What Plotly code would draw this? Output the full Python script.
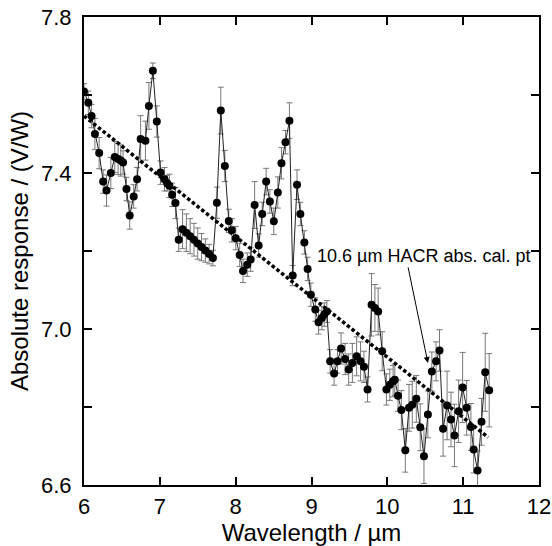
import plotly.graph_objects as go

# Measured data (wavelength in um, absolute response in V/W, error bar)
wavelength = [6.00, 6.057, 6.10, 6.144, 6.20, 6.253, 6.297, 6.354, 6.406, 6.45, 6.485, 6.515,
              6.56, 6.603, 6.655, 6.70, 6.747, 6.81, 6.856, 6.908, 6.96, 7.009, 7.062, 7.097,
              7.127, 7.162, 7.206, 7.249,
              7.30, 7.35, 7.40, 7.45, 7.50, 7.55, 7.60, 7.65, 7.70,
              7.752, 7.804, 7.857, 7.909, 7.949, 8.001, 8.053, 8.097, 8.153, 8.198, 8.25,
              8.303, 8.35, 8.402, 8.451, 8.503, 8.556, 8.604, 8.657, 8.709, 8.752, 8.809,
              8.853, 8.906, 8.949, 8.992, 9.050, 9.093, 9.137, 9.168, 9.202, 9.246, 9.298,
              9.342, 9.39, 9.443, 9.49, 9.539, 9.595, 9.647, 9.692, 9.739, 9.792, 9.836,
              9.879, 9.932, 9.988, 10.033, 10.076, 10.098, 10.141, 10.185, 10.237, 10.286,
              10.329, 10.382, 10.434, 10.483, 10.535, 10.587, 10.643, 10.688, 10.735, 10.788,
              10.84, 10.885, 10.94, 10.993, 11.046, 11.102, 11.138, 11.19, 11.242, 11.291,
              11.343]
response = [7.609, 7.580, 7.546, 7.500, 7.451, 7.378, 7.355, 7.400, 7.441, 7.436, 7.432, 7.427,
            7.359, 7.291, 7.340, 7.384, 7.487, 7.483, 7.572, 7.662, 7.532, 7.401, 7.384, 7.374,
            7.367, 7.344, 7.323, 7.229,
            7.256, 7.247, 7.238, 7.229, 7.219, 7.210, 7.201, 7.192, 7.182,
            7.324, 7.560, 7.418, 7.277, 7.253, 7.233, 7.190, 7.149, 7.165, 7.178, 7.318,
            7.214, 7.295, 7.378, 7.327, 7.276, 7.350, 7.425, 7.479, 7.534, 7.137, 7.370,
            7.295, 7.222, 7.154, 7.088, 7.050, 7.017, 7.028, 7.037, 7.045, 6.917, 6.886,
            6.917, 6.950, 6.923, 6.896, 6.913, 6.930, 6.917, 6.903, 6.845, 7.062, 7.054,
            7.045, 6.943, 6.845, 6.857, 6.866, 6.870, 6.829, 6.792, 6.689, 6.798,
            6.806, 6.821, 6.748, 6.674, 6.781, 6.891, 6.917, 6.945, 6.744, 6.804,
            6.768, 6.727, 6.789, 6.850, 6.798, 6.749, 6.691, 6.637, 6.762, 6.889,
            6.843]
error = [0.02, 0.03, 0.03, 0.04, 0.04, 0.03, 0.04, 0.04, 0.04, 0.04, 0.04, 0.03,
         0.03, 0.035, 0.03, 0.03, 0.06, 0.05, 0.06, 0.02, 0.04, 0.03, 0.03, 0.02,
         0.03, 0.03, 0.04, 0.03,
         0.05, 0.048, 0.045, 0.042, 0.04, 0.035, 0.03, 0.025, 0.02,
         0.04, 0.06, 0.04, 0.03, 0.03, 0.03, 0.03, 0.03, 0.03, 0.03, 0.06,
         0.03, 0.03, 0.034, 0.03, 0.034, 0.04, 0.04, 0.03, 0.046, 0.026, 0.038,
         0.03, 0.03, 0.03, 0.03, 0.03, 0.03, 0.03, 0.03, 0.028, 0.03, 0.03,
         0.03, 0.04, 0.04, 0.04, 0.05, 0.05, 0.05, 0.04, 0.032, 0.08, 0.06,
         0.06, 0.05, 0.04, 0.04, 0.04, 0.04, 0.04, 0.05, 0.056, 0.06,
         0.06, 0.06, 0.06, 0.07, 0.06, 0.05, 0.05, 0.053, 0.07, 0.088,
         0.07, 0.08, 0.08, 0.09, 0.07, 0.06, 0.06, 0.05, 0.06, 0.10,
         0.094]

# Linear trend (dotted) end points
trend_x = [6.0, 11.33]
trend_y = [7.546, 6.722]

x_ticks = [6, 7, 8, 9, 10, 11, 12]
y_ticks = [6.6, 7.0, 7.4, 7.8]

FONT = "Liberation Sans, Arial, sans-serif"

fig = go.Figure()
fig.add_trace(go.Scatter(
    x=wavelength, y=response, mode="lines+markers",
    line=dict(color="#222222", width=1),
    marker=dict(color="black", size=8),
    error_y=dict(type="data", array=error, visible=True, color="#777777",
                 thickness=1, width=3),
    showlegend=False,
))
fig.add_trace(go.Scatter(
    x=trend_x, y=trend_y, mode="lines",
    line=dict(color="black", width=3.5, dash="3.5px,2.5px"),
    showlegend=False,
))

fig.add_annotation(x=10.476, y=7.188, xref="x", yref="y",
                   text="10.6 \u00b5m HACR abs. cal. pt", showarrow=False,
                   font=dict(family=FONT, size=18, color="black"))
fig.add_annotation(x=10.535, y=6.913, ax=10.27, ay=7.162, xref="x", yref="y",
                   axref="x", ayref="y", text="", showarrow=True,
                   arrowhead=2, arrowsize=1.2, arrowwidth=1, arrowcolor="black")

axis_common = dict(showline=True, linecolor="black", linewidth=2, mirror="ticks",
                   ticks="inside", ticklen=8, tickwidth=1.5, tickcolor="black",
                   showgrid=False, zeroline=False, automargin=False,
                   ticklabeloverflow="allow",
                   tickfont=dict(family=FONT, size=22, color="black"))

fig.update_xaxes(range=[6, 12], tickvals=x_ticks, ticktext=[str(v) for v in x_ticks],
                 title=dict(text="Wavelength / \u00b5m", font=dict(family=FONT, size=24, color="black"),
                            standoff=4),
                 ticklabelstandoff=1, **axis_common)
fig.update_yaxes(range=[6.6, 7.8], tickvals=y_ticks, ticktext=[f"{v:.1f}" for v in y_ticks],
                 minor=dict(dtick=0.2, tick0=6.6, ticks="inside", ticklen=8, tickwidth=1.5,
                            tickcolor="black", showgrid=False),
                 title=dict(text="Absolute response / (V/W)", font=dict(family=FONT, size=24, color="black"),
                            standoff=6),
                 ticklabelstandoff=6, **axis_common)

fig.update_layout(width=552, height=546, margin=dict(l=84, r=13, t=17, b=61),
                  plot_bgcolor="white", paper_bgcolor="white")

fig.write_html("out.html")
